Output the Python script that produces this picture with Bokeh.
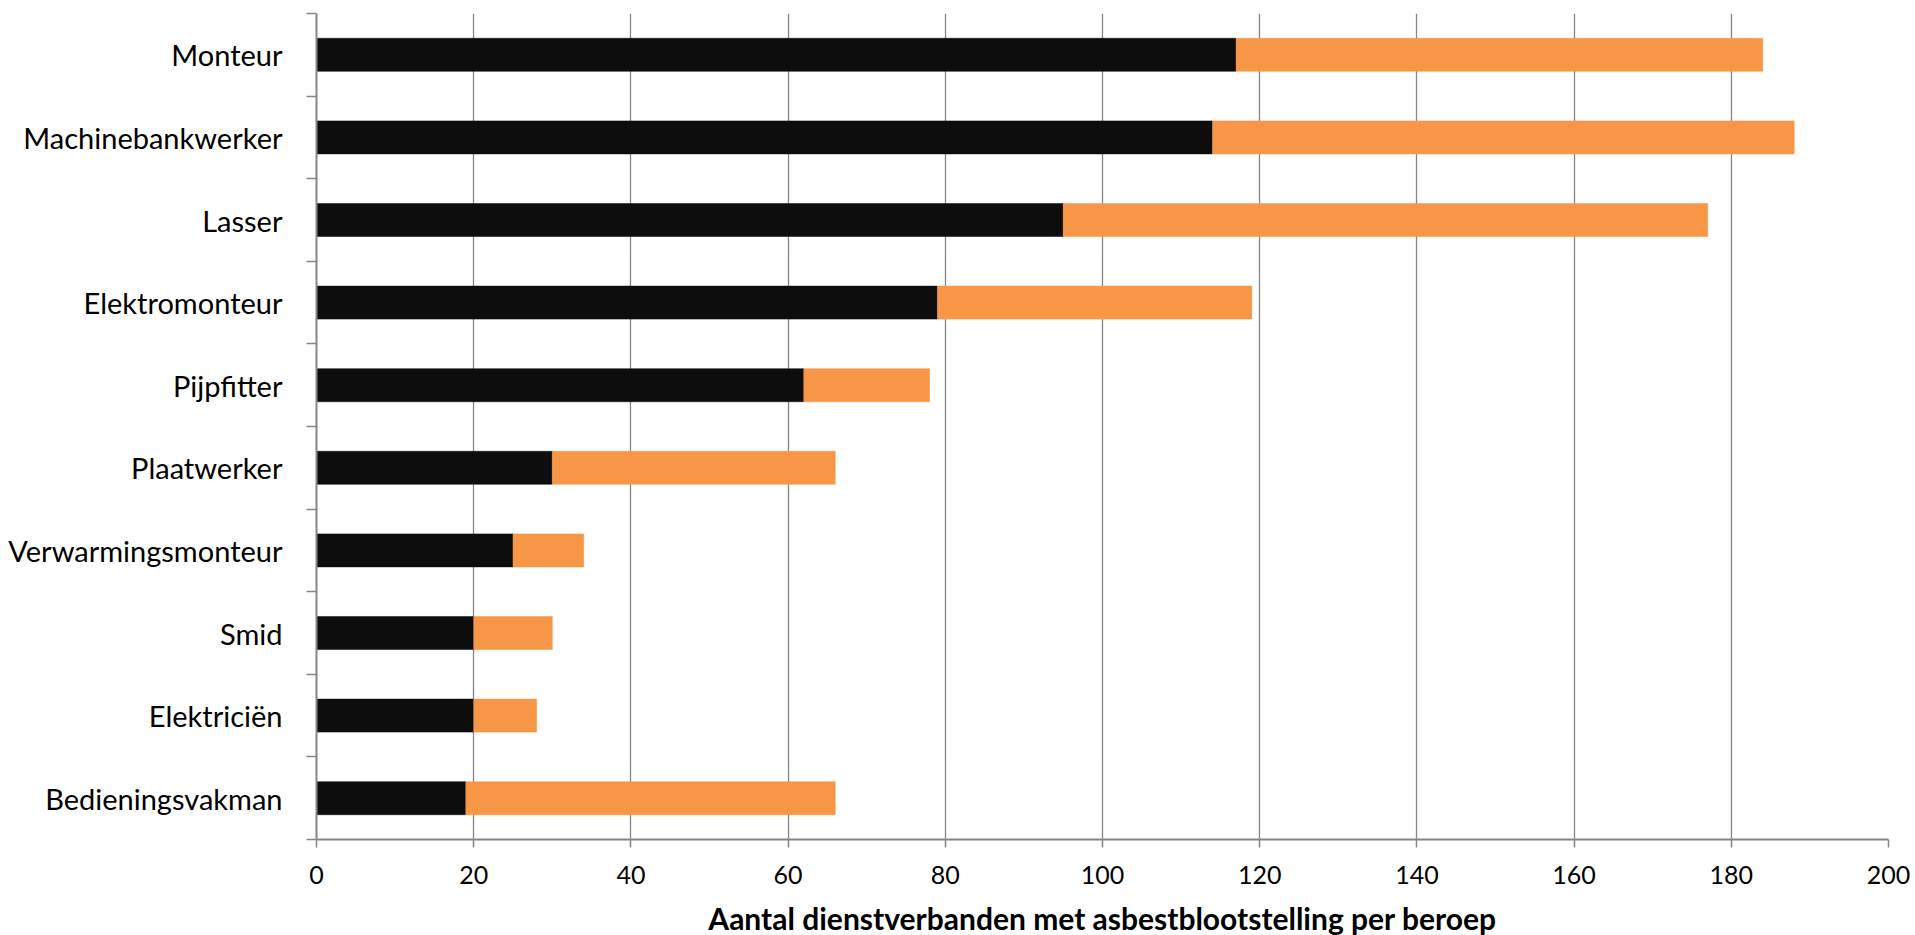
from bokeh.plotting import figure
from bokeh.models import ColumnDataSource, FixedTicker, Range1d
from bokeh.embed import file_html
from bokeh.resources import INLINE

# Data (top to bottom as in the chart)
beroepen = ["Monteur", "Machinebankwerker", "Lasser", "Elektromonteur", "Pijpfitter",
            "Plaatwerker", "Verwarmingsmonteur", "Smid", "Elektriciën", "Bedieningsvakman"]
serie_zwart = [117, 114, 95, 79, 62, 30, 25, 20, 20, 19]
serie_oranje = [67, 74, 82, 40, 16, 36, 9, 10, 8, 47]
x_ticks = [0, 20, 40, 60, 80, 100, 120, 140, 160, 180, 200]
x_title = "Aantal dienstverbanden met asbestblootstelling per beroep"

n = len(beroepen)
# position: first category at top
ypos = [n - 1 - i + 0.5 for i in range(n)]
source = ColumnDataSource(dict(y=ypos, zwart=serie_zwart, oranje=serie_oranje, naam=beroepen))

p = figure(frame_width=1572, frame_height=826,
           x_range=Range1d(0, 200), y_range=Range1d(0, n),
           output_backend="svg", toolbar_location=None,
           min_border_left=316, min_border_right=27, min_border_top=13, min_border_bottom=10)
p.outline_line_color = None
p.background_fill_color = "white"
p.border_fill_color = "white"

p.hbar_stack(["zwart", "oranje"], y="y", height=0.4, source=source,
             fill_color=["#0d0d0d", "#f79646"], line_color=["#0d0d0d", "#f79646"], line_width=0.5)

# grid
p.ygrid.grid_line_color = None
p.xgrid.grid_line_color = "#868686"
p.xgrid.grid_line_width = 1.3
p.xgrid.ticker = FixedTicker(ticks=x_ticks)

font = "Lato"
# x axis
xa = p.xaxis[0]
xa.ticker = FixedTicker(ticks=x_ticks)
xa.axis_line_color = "#868686"
xa.axis_line_width = 2
xa.major_tick_line_color = "#868686"
xa.major_tick_line_width = 1.5
xa.major_tick_out = 8
xa.major_tick_in = 0
xa.minor_tick_line_color = None
xa.major_label_text_font = font
xa.major_label_text_font_size = "25px"
xa.major_label_text_color = "#000000"
xa.major_label_standoff = 18
xa.axis_label = x_title
xa.axis_label_text_font = font
xa.axis_label_text_font_style = "bold"
xa.axis_label_text_font_size = "30px"
xa.axis_label_text_color = "#000000"
xa.axis_label_standoff = 13

# y axis: labels at centers, tick marks at category boundaries
ya = p.yaxis[0]
ya.ticker = FixedTicker(ticks=ypos, minor_ticks=list(range(n + 1)))
ya.major_label_overrides = {y: name for y, name in zip(ypos, beroepen)}
ya.axis_line_color = "#868686"
ya.axis_line_width = 2
ya.major_tick_line_color = None
ya.major_tick_out = 0
ya.major_tick_in = 0
ya.minor_tick_line_color = "#868686"
ya.minor_tick_line_width = 1.5
ya.minor_tick_out = 10
ya.minor_tick_in = 0
ya.major_label_text_font = font
ya.major_label_text_font_size = "29px"
ya.major_label_text_color = "#000000"
ya.major_label_standoff = 24

open("out.html", "w").write(file_html(p, INLINE))
